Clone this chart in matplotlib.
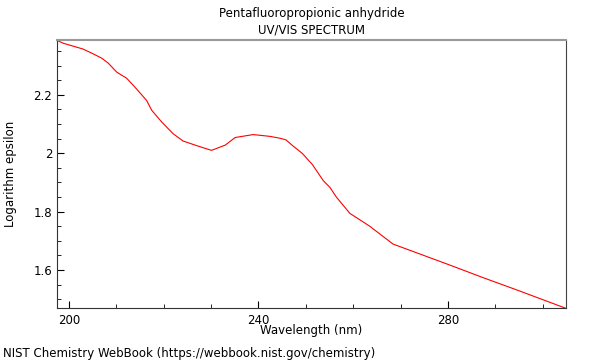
import matplotlib
matplotlib.use("Agg")
import matplotlib.pyplot as plt
from matplotlib.ticker import MultipleLocator

# spectrum
wavelength = [197.6, 198.8, 200.9, 203.0, 205.2, 206.9, 208.3, 210.1, 212.2, 214.3,
              216.4, 217.5, 219.6, 222.0, 224.1, 227.0, 230.1, 233.0, 235.1, 238.9,
              242.4, 244.7, 245.8, 247.3, 249.3, 251.4, 253.7, 255.1, 256.4, 259.3,
              263.5, 268.4, 273.4, 280.4, 287.4, 294.5, 304.7]
log_eps = [2.386, 2.377, 2.367, 2.357, 2.340, 2.326, 2.309, 2.278, 2.257, 2.220,
           2.181, 2.147, 2.107, 2.067, 2.042, 2.026, 2.010, 2.028, 2.054, 2.064,
           2.058, 2.051, 2.046, 2.025, 1.999, 1.961, 1.906, 1.883, 1.851, 1.794,
           1.750, 1.689, 1.659, 1.617, 1.574, 1.532, 1.470]

xticks = [200, 240, 280]
yticks = [1.6, 1.8, 2.0, 2.2]
ylabels = ["1.6", "1.8", "2", "2.2"]

fig = plt.figure(figsize=(6, 3.6), dpi=100)
ax = fig.add_axes([57/600, 52/360, 509/600, 268/360])

ax.plot(wavelength, log_eps, color="red", lw=0.8)

ax.set_xlim(197.5, 304.9)
ax.set_ylim(1.47, 2.388)
ax.set_xticks(xticks)
ax.set_yticks(yticks)
ax.set_yticklabels(ylabels)
ax.xaxis.set_minor_locator(MultipleLocator(10))
ax.yaxis.set_minor_locator(MultipleLocator(0.05))
ax.tick_params(which="both", direction="in", labelsize=8.5, top=False, right=False)
ax.tick_params(which="major", length=5)
ax.tick_params(which="minor", length=3)
ax.tick_params(axis="x", pad=4)

ax.spines["top"].set_color("#999999")
ax.spines["top"].set_linewidth(1.5)
ax.spines["right"].set_color("#444444")
ax.spines["left"].set_color("#333333")
ax.spines["bottom"].set_color("#333333")

ax.set_xlabel("Wavelength (nm)", fontsize=8.5, labelpad=-2)
ax.set_ylabel("Logarithm epsilon", fontsize=8.5, labelpad=12)
ax.set_title("Pentafluoropropionic anhydride\nUV/VIS SPECTRUM", fontsize=8.5, pad=5,
             linespacing=1.3)

fig.text(3/600, 1 - 353/360, "NIST Chemistry WebBook (https://webbook.nist.gov/chemistry)",
         fontsize=8.5, va="center", ha="left")

fig.savefig("out.png", dpi=100)
